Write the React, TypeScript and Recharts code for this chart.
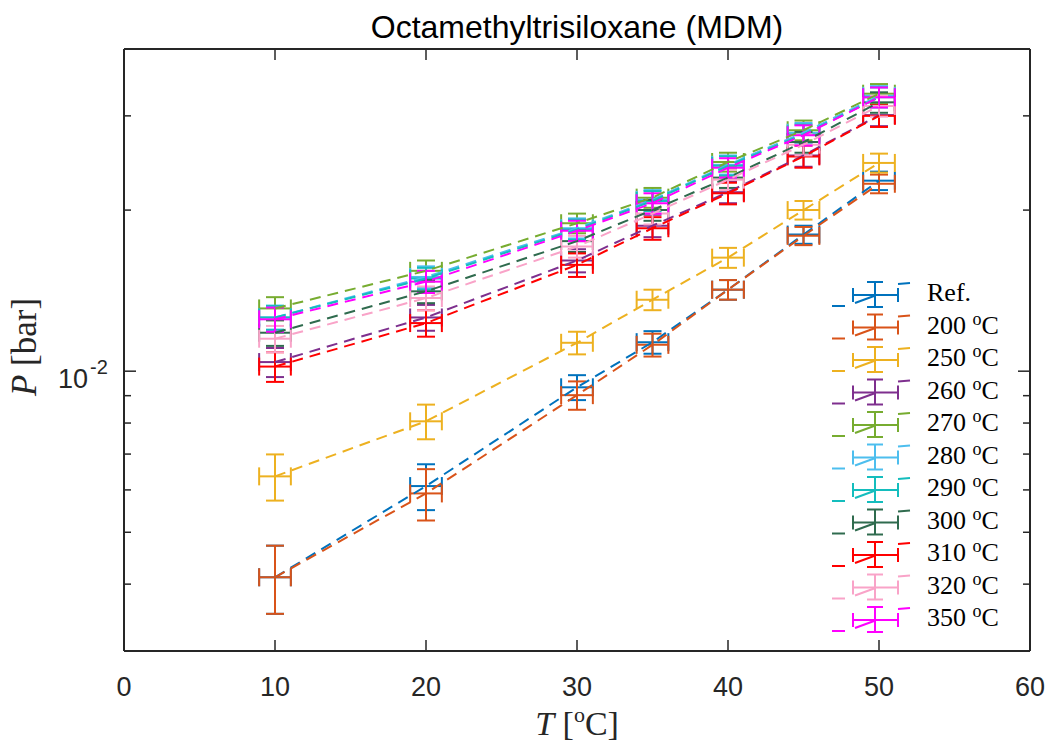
import React from 'react'
import { ScatterChart, Scatter, XAxis, YAxis, ErrorBar } from 'recharts'

// temperatures of the measurements (°C) and the spread on them
const T = [10, 20, 30, 35, 40, 45, 50]
const T_ERR = 1.05

// vapour pressure [bar], one array per curve
const pRef = [4.12e-3, 6.1e-3, 9.33e-3, 1.133e-2, 1.42e-2, 1.8e-2, 2.27e-2]
const p200 = [4.12e-3, 5.91e-3, 9.02e-3, 1.12e-2, 1.42e-2, 1.79e-2, 2.24e-2]
const p250 = [6.36e-3, 8.06e-3, 1.13e-2, 1.36e-2, 1.63e-2, 2.0e-2, 2.45e-2]
const p260 = [1.04e-2, 1.26e-2, 1.61e-2, 1.87e-2, 2.16e-2, 2.53e-2, 3.01e-2]
const p270 = [1.31e-2, 1.54e-2, 1.89e-2, 2.11e-2, 2.46e-2, 2.82e-2, 3.3e-2]
const p280 = [1.26e-2, 1.5e-2, 1.85e-2, 2.09e-2, 2.43e-2, 2.79e-2, 3.27e-2]
const p290 = [1.26e-2, 1.49e-2, 1.84e-2, 2.08e-2, 2.42e-2, 2.77e-2, 3.25e-2]
const p300 = [1.18e-2, 1.41e-2, 1.75e-2, 2.0e-2, 2.3e-2, 2.68e-2, 3.18e-2]
const p310 = [1.02e-2, 1.23e-2, 1.58e-2, 1.85e-2, 2.15e-2, 2.52e-2, 3.0e-2]
const p320 = [1.15e-2, 1.37e-2, 1.71e-2, 1.97e-2, 2.28e-2, 2.65e-2, 3.13e-2]
const p350 = [1.25e-2, 1.47e-2, 1.83e-2, 2.06e-2, 2.4e-2, 2.76e-2, 3.25e-2]

// pressure uncertainty [bar]
const errRef = [6e-4, 6e-4, 5e-4, 5.5e-4, 6e-4, 7e-4, 9e-4]
const err200 = [6e-4, 6.5e-4, 5.5e-4, 5.5e-4, 6e-4, 7e-4, 9e-4]
const err250 = [6.3e-4, 6e-4, 5.5e-4, 6e-4, 7e-4, 8e-4, 1e-3]
const errHot = [6.5e-4, 7e-4, 8e-4, 9e-4, 1e-3, 1.2e-3, 1.4e-3]

const xTicks = [0, 10, 20, 30, 40, 50, 60]
const yTicks = [0.004, 0.005, 0.006, 0.007, 0.008, 0.009, 0.01, 0.02, 0.03]

const series = [
  { label: 'Ref.', unit: false, color: '#0072BD', p: pRef, err: errRef },
  { label: '200', unit: true, color: '#D95319', p: p200, err: err200 },
  { label: '250', unit: true, color: '#EDB120', p: p250, err: err250 },
  { label: '260', unit: true, color: '#7E2F8E', p: p260, err: errHot },
  { label: '270', unit: true, color: '#77AC30', p: p270, err: errHot },
  { label: '280', unit: true, color: '#4DBEEE', p: p280, err: errHot },
  { label: '290', unit: true, color: '#14BDBD', p: p290, err: errHot },
  { label: '300', unit: true, color: '#2F6B4E', p: p300, err: errHot },
  { label: '310', unit: true, color: '#FF0000', p: p310, err: errHot },
  { label: '320', unit: true, color: '#F9A3C8', p: p320, err: errHot },
  { label: '350', unit: true, color: '#FF00FF', p: p350, err: errHot }
]

const AX = '#262626'
const SANS = '"Liberation Sans", Arial, sans-serif'
const SERIF = '"Liberation Serif", "Times New Roman", serif'

const isMajor = (v: number) => Math.abs(v - 0.01) < 1e-9

const BottomTick = (props: any) => {
  const { x, y, payload } = props
  return (
    <g>
      <line x1={x} x2={x} y1={y} y2={y - 11} stroke={AX} strokeWidth={1.5} />
      <text x={x} y={y + 45} textAnchor="middle" fontSize={27} fontFamily={SANS} fill={AX}>{payload.value}</text>
    </g>
  )
}

const TopTick = (props: any) => {
  const { x, y } = props
  return <line x1={x} x2={x} y1={y} y2={y + 11} stroke={AX} strokeWidth={1.5} />
}

const LeftTick = (props: any) => {
  const { x, y, payload } = props
  const major = isMajor(payload.value)
  return (
    <g>
      <line x1={x} x2={x + (major ? 12 : 7)} y1={y} y2={y} stroke={AX} strokeWidth={1.5} />
      {major && (
        <>
          <text x={x - 36} y={y + 17} textAnchor="end" fontSize={27} fontFamily={SANS} fill={AX}>10</text>
          <text x={x - 34} y={y + 3} textAnchor="start" fontSize={20} fontFamily={SANS} fill={AX}>-2</text>
        </>
      )}
    </g>
  )
}

const RightTick = (props: any) => {
  const { x, y, payload } = props
  const major = isMajor(payload.value)
  return <line x1={x} x2={x - (major ? 12 : 7)} y1={y} y2={y} stroke={AX} strokeWidth={1.5} />
}

const NoMarker = () => <g />

function LegendIcon({ cy, color }: { cy: number; color: string }) {
  return (
    <g stroke={color} strokeWidth={2} fill="none">
      <line x1={832} y1={cy + 11} x2={845} y2={cy + 11} />
      <line x1={855} y1={cy + 8} x2={874} y2={cy + 1} />
      <line x1={898} y1={cy - 11} x2={910} y2={cy - 12} />
      <line x1={853} y1={cy} x2={898} y2={cy} />
      <line x1={853} y1={cy - 7} x2={853} y2={cy + 7} />
      <line x1={898} y1={cy - 7} x2={898} y2={cy + 7} />
      <line x1={875} y1={cy - 13} x2={875} y2={cy + 12} />
      <line x1={867} y1={cy - 13} x2={883} y2={cy - 13} />
      <line x1={867} y1={cy + 12} x2={883} y2={cy + 12} />
    </g>
  )
}

export default function App() {
  return (
    <div style={{ position: 'absolute', left: 0, top: 0, width: 1052, height: 744, background: '#fff' }}>
      <ScatterChart width={1052} height={744} margin={{ top: 48, right: 21, bottom: 0, left: 0 }}>
        <XAxis
          xAxisId="b" type="number" dataKey="t" domain={[0, 60]} ticks={xTicks} allowDataOverflow interval={0}
          height={93} tickSize={0} tickMargin={0} tickLine={false}
          axisLine={{ stroke: AX, strokeWidth: 2 }} tick={BottomTick}
        />
        <XAxis
          xAxisId="top" orientation="top" type="number" dataKey="t" domain={[0, 60]} ticks={xTicks} allowDataOverflow interval={0}
          height={1} tickSize={0} tickMargin={0} tickLine={false}
          axisLine={{ stroke: AX, strokeWidth: 2 }} tick={TopTick}
        />
        <YAxis
          yAxisId="l" type="number" dataKey="p" scale="log" domain={[0.003, 0.04]} ticks={yTicks} allowDataOverflow interval={0}
          width={124} tickSize={0} tickMargin={0} tickLine={false}
          axisLine={{ stroke: AX, strokeWidth: 2 }} tick={LeftTick}
        />
        <YAxis
          yAxisId="r" orientation="right" type="number" dataKey="p" scale="log" domain={[0.003, 0.04]} ticks={yTicks} allowDataOverflow interval={0}
          width={1} tickSize={0} tickMargin={0} tickLine={false}
          axisLine={{ stroke: AX, strokeWidth: 2 }} tick={RightTick}
        />
        {series.map(s => (
          <Scatter
            key={s.label}
            name={s.label}
            xAxisId="b"
            yAxisId="l"
            data={T.map((t, i) => ({ t, p: s.p[i], ex: T_ERR, ey: s.err[i] }))}
            fill={s.color}
            line={{ stroke: s.color, strokeWidth: 2, strokeDasharray: '11 7' }}
            shape={NoMarker}
            isAnimationActive={false}
          >
            <ErrorBar dataKey="ey" direction="y" width={9} stroke={s.color} strokeWidth={2} isAnimationActive={false} />
            <ErrorBar dataKey="ex" direction="x" width={9} stroke={s.color} strokeWidth={2} isAnimationActive={false} />
          </Scatter>
        ))}
      </ScatterChart>
      <svg width={1052} height={744} style={{ position: 'absolute', left: 0, top: 0, pointerEvents: 'none' }}>
        <text x={577} y={38} textAnchor="middle" fontSize={32} fontFamily={SANS} fill="#000">Octamethyltrisiloxane (MDM)</text>
        <text x={577} y={735} textAnchor="middle" fontSize={34} fontFamily={SERIF} fill={AX}>
          <tspan fontStyle="italic">T</tspan> [<tspan dy={-13} fontSize={22}>o</tspan><tspan dy={13}>C]</tspan>
        </text>
        <text transform="translate(36, 347) rotate(-90)" textAnchor="middle" fontSize={35} fontFamily={SERIF} fill={AX}>
          <tspan fontStyle="italic">P</tspan> [bar]
        </text>
        {series.map((s, i) => {
          const cy = 295 + i * 32.5
          return (
            <g key={s.label}>
              <LegendIcon cy={cy} color={s.color} />
              <text x={927} y={cy + 6} fontSize={26} fontFamily={SERIF} fill="#000">
                {s.unit ? (
                  <>
                    {s.label} <tspan dy={-9} fontSize={18}>o</tspan><tspan dy={9}>C</tspan>
                  </>
                ) : s.label}
              </text>
            </g>
          )
        })}
      </svg>
    </div>
  )
}
